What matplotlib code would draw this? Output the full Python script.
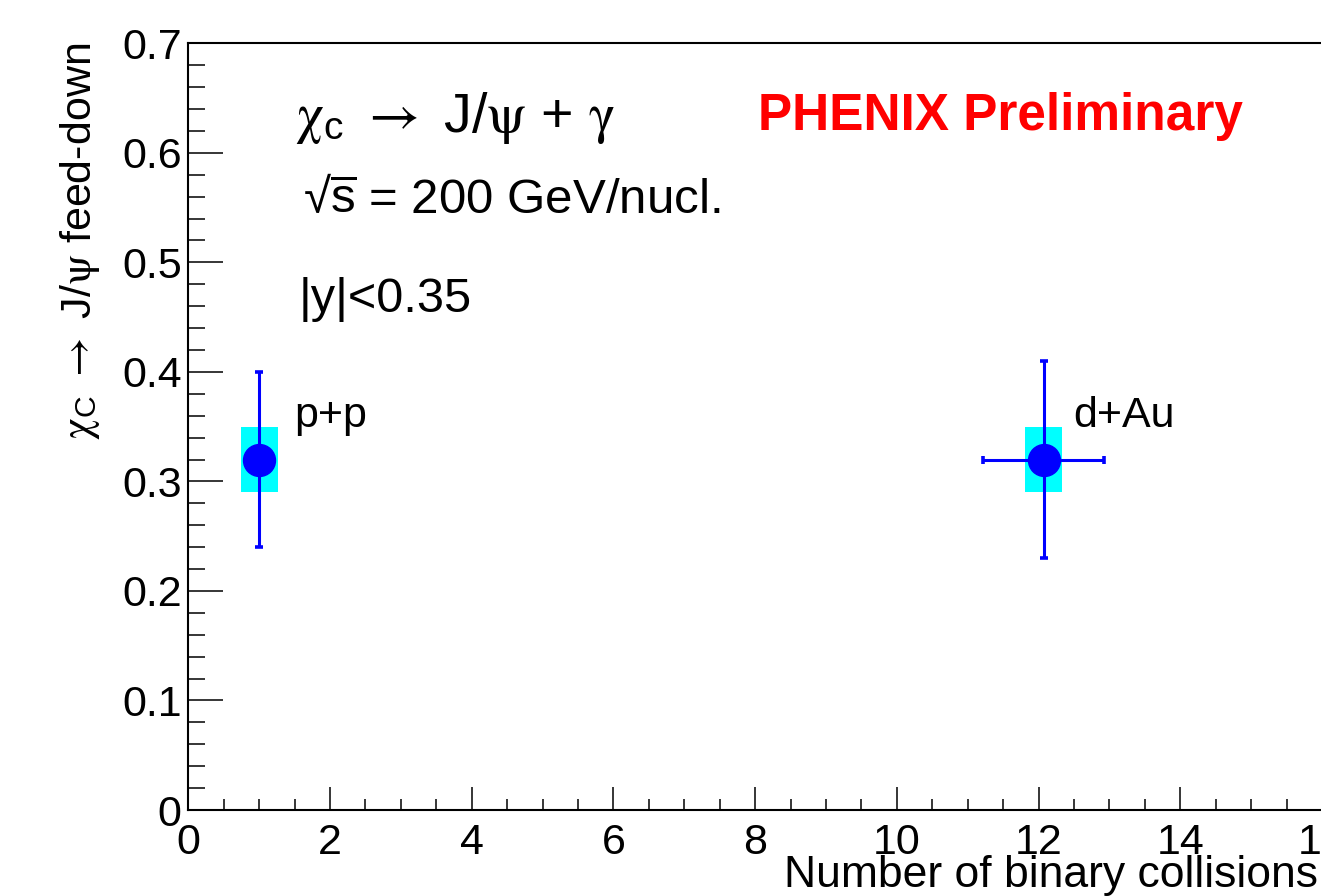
"""
Chi_c -> J/psi feed-down fraction vs number of binary collisions
(PHENIX preliminary, p+p and d+Au at sqrt(s) = 200 GeV/nucl.)
"""

import matplotlib
matplotlib.use('Agg')
import matplotlib.pyplot as plt
from matplotlib.patches import Rectangle
from matplotlib.ticker import MultipleLocator

# ============================================================================
# DATA
# ============================================================================

systems = ['p+p', 'd+Au']
n_coll = [1.0, 12.07]
n_coll_err = [0.0, 0.86]
feed_down = [0.32, 0.32]
stat_err = [0.08, 0.09]
syst_lo = [0.03, 0.03]
syst_hi = [0.03, 0.03]
syst_half_width = 0.26

# label anchor for each point (data coords)
label_pos = [(1.5, 0.350), (12.49, 0.350)]

# ============================================================================
# STYLE
# ============================================================================

plt.rcParams['font.family'] = ['Liberation Sans', 'DejaVu Sans']
plt.rcParams['mathtext.fontset'] = 'stix'

MARKER_COLOR = '#0000FF'
BOX_COLOR = '#00FFFF'
W, H = 1321, 896


def draw():
    fig = plt.figure(figsize=(W / 100, H / 100), dpi=100, facecolor='white')
    ax = fig.add_axes([188.3 / W, 86 / H, (1322 - 188.3) / W, (810 - 43.3) / H])

    ax.set_xlim(0, 16)
    ax.set_ylim(0, 0.7)

    # systematic boxes
    for x, y, lo, hi in zip(n_coll, feed_down, syst_lo, syst_hi):
        ax.add_patch(Rectangle((x - syst_half_width, y - lo), 2 * syst_half_width,
                               lo + hi, facecolor=BOX_COLOR, edgecolor='none', zorder=2))

    ax.errorbar(n_coll, feed_down, yerr=stat_err, xerr=n_coll_err, fmt='none',
                ecolor=MARKER_COLOR, elinewidth=2.2, capsize=3.2, capthick=2.6, zorder=3)
    ax.plot(n_coll, feed_down, 'o', color=MARKER_COLOR, markersize=23, zorder=4)

    for name, (lx, ly) in zip(systems, label_pos):
        ax.text(lx, ly, name, fontsize=31, ha='left', va='baseline')

    # annotations
    ax.text(1.51, 0.619,
            '$\\mathrm{\\chi}_\\mathregular{c}$ $\\rightarrow$ J/$\\mathrm{\\psi}$ + $\\mathrm{\\gamma}$',
            fontsize=40, va='baseline')
    ax.text(1.62, 0.545, '√$\\overline{\\mathregular{s}}$ = 200 GeV/nucl.', fontsize=35.5,
            va='baseline')
    ax.text(1.55, 0.455, '|y|<0.35', fontsize=35, va='baseline')
    ax.text(8.04, 0.621, 'PHENIX Preliminary', fontsize=37, color='#FF0000',
            fontweight='bold', va='baseline')

    # ROOT-like ticks
    ax.xaxis.set_minor_locator(MultipleLocator(0.5))
    ax.yaxis.set_minor_locator(MultipleLocator(0.02))
    ax.set_xticks(range(0, 17, 2))
    ax.set_xticklabels([str(v) for v in range(0, 17, 2)])
    ax.set_yticks([i / 10 for i in range(8)])
    ax.set_yticklabels(['0'] + [f'{i / 10:.1f}' for i in range(1, 8)])

    ax.tick_params(axis='both', which='both', direction='in', top=False, right=False,
                   width=1.1, labelsize=31)
    ax.tick_params(axis='y', which='major', length=25, pad=4.8)
    ax.tick_params(axis='y', which='minor', length=12.5)
    ax.tick_params(axis='x', which='major', length=16.5, pad=9.4)
    ax.tick_params(axis='x', which='minor', length=8)

    for side in ['left', 'bottom', 'top']:
        ax.spines[side].set_linewidth(1.5)
    ax.spines['right'].set_linewidth(0.8)
    ax.spines['right'].set_color('#cccccc')

    # axis titles (ROOT puts them at the axis ends)
    fig.text(80 / W, 1 - 43 / H,
             '$\\mathrm{\\chi}_\\mathregular{C}$ $\\rightarrow$ J/$\\mathrm{\\psi}$ feed-down',
             fontsize=31, rotation=90, ha='center', va='top')
    fig.text(1318 / W, 9 / H, 'Number of binary collisions', fontsize=32,
             ha='right', va='baseline')

    fig.savefig('out.png', dpi=100, facecolor='white')
    plt.close(fig)


if __name__ == '__main__':
    draw()
